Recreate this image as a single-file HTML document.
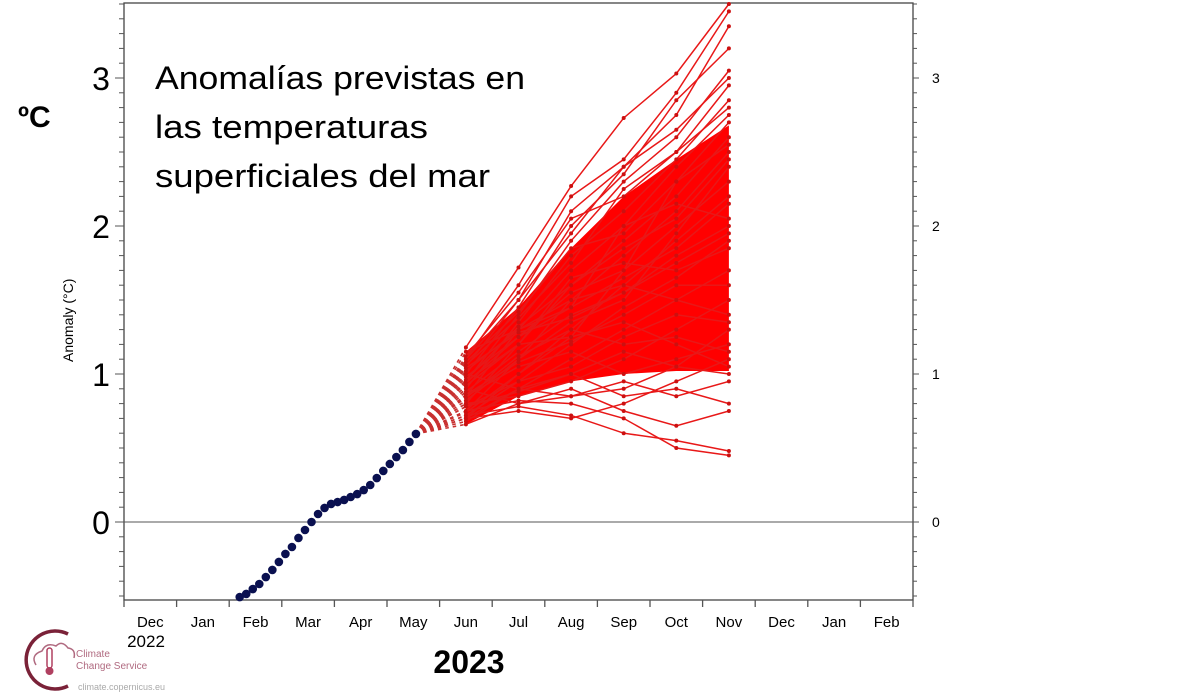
<!DOCTYPE html>
<html><head><meta charset="utf-8"><style>
html,body{margin:0;padding:0;background:#fff;width:1200px;height:695px;overflow:hidden}
svg{display:block}
.lbl{font-family:"Liberation Sans",sans-serif;fill:#000}
.big{font-family:"Liberation Sans",sans-serif;fill:#000}
</style></head><body>
<svg id="chart" width="1200" height="695" xmlns="http://www.w3.org/2000/svg">
<g id="axes"></g>
<g id="series"></g>
<g id="labels"></g>
<text class="big" x="155" y="89" font-size="32" textLength="370" lengthAdjust="spacingAndGlyphs">Anomalías previstas en</text>
<text class="big" x="155" y="138" font-size="32" textLength="273" lengthAdjust="spacingAndGlyphs">las temperaturas</text>
<text class="big" x="155" y="187" font-size="32" textLength="335" lengthAdjust="spacingAndGlyphs">superficiales del mar</text>
<text class="big" x="18" y="127" font-size="30" font-weight="bold">ºC</text>
<text class="lbl" x="0" y="0" font-size="14" transform="translate(73,362) rotate(-90)">Anomaly (°C)</text>
<text class="big" x="469" y="673" font-size="32" font-weight="bold" text-anchor="middle">2023</text>
<text class="lbl" x="146" y="647" font-size="17" text-anchor="middle">2022</text>
<g>
<path d="M68,634 A29,29 0 1 0 68,686" fill="none" stroke="#7a2238" stroke-width="3.5"/>
<path d="M36,665 q-6,-10 6,-14 q4,-9 14,-5 q6,-6 12,2 q8,1 6,10" fill="none" stroke="#b06a80" stroke-width="1.5"/>
<rect x="47" y="648" width="5" height="20" rx="2.5" fill="none" stroke="#b04060" stroke-width="1.5"/>
<circle cx="49.5" cy="671" r="4" fill="#b04060"/>
<text class="lbl" x="76" y="657" font-size="10" style="fill:#b06a80">Climate</text>
<text class="lbl" x="76" y="669" font-size="10" style="fill:#b06a80">Change Service</text>
<text class="lbl" x="78" y="690" font-size="9" style="fill:#aaa">climate.copernicus.eu</text>
</g>
</svg>
<script>
const months=["Dec","Jan","Feb","Mar","Apr","May","Jun","Jul","Aug","Sep","Oct","Nov","Dec","Jan","Feb"];
const yTicks=[0,1,2,3];
const obsValues=[-0.507,-0.486,-0.453,-0.419,-0.372,-0.324,-0.270,-0.216,-0.169,-0.108,-0.054,0,0.054,0.095,0.122,0.135,0.149,0.169,0.189,0.216,0.25,0.297,0.345,0.392,0.439,0.486,0.541,0.595];
const obsStartMonth=2.2, obsEndMonth=5.55;
const fcMonths=[6.5,7.5,8.5,9.5,10.5,11.5];
const coreLow=[0.66,0.85,0.95,1.0,1.02,1.02];
const coreHigh=[1.15,1.45,1.85,2.2,2.45,2.68];
const m1=[1.18,1.72,2.27,2.73,3.03,3.5],m2=[1.1,1.6,2.2,2.45,2.9,3.45],m3=[1.05,1.5,2.1,2.4,2.75,3.35],m4=[1.0,1.45,2.0,2.35,2.85,3.2],
m5=[0.95,1.4,1.9,2.3,2.6,3.05],m6=[1.12,1.55,2.05,2.2,2.5,2.95],m7=[0.9,1.35,1.8,2.1,2.45,2.85],m8=[0.85,1.3,1.7,2.0,2.4,2.75],
m9=[1.08,1.42,1.85,1.95,2.3,2.7],m10=[0.8,1.2,1.6,1.9,2.2,2.6],m11=[0.75,1.1,1.5,1.8,2.1,2.5],m12=[0.98,1.25,1.55,1.7,2.0,2.3],
m13=[0.7,1.0,1.3,1.6,1.9,2.2],m14=[0.88,1.15,1.4,1.55,1.8,2.0],m15=[0.72,0.95,1.2,1.45,1.65,1.9],m16=[0.68,0.9,1.1,1.3,1.5,1.7],
m17=[0.8,0.85,0.95,1.1,1.3,1.5],m18=[0.66,0.8,0.85,0.9,1.05,1.3],m19=[0.7,0.75,0.7,0.8,0.95,1.1],m20=[0.72,0.78,0.72,0.6,0.55,0.48],
m21=[0.75,0.82,0.8,0.7,0.5,0.45],m22=[0.9,0.8,0.9,0.75,0.65,0.75],m23=[1.0,0.9,0.85,0.95,0.85,0.95],m24=[0.78,0.88,1.0,0.85,0.9,0.8],
m25=[0.95,1.2,1.25,1.35,1.2,1.05],m26=[0.85,1.05,1.15,1.0,1.1,1.2],m27=[1.15,1.3,1.5,1.6,1.5,1.4],m28=[0.92,1.2,1.65,1.75,1.7,1.85],
m29=[1.02,1.3,1.45,2.0,2.15,2.05],m30=[0.82,1.1,1.35,1.5,1.95,2.4],m31=[0.74,1.0,1.25,1.7,2.3,2.55],m32=[1.06,1.38,1.75,2.25,2.5,2.8],
m33=[0.96,1.32,1.6,1.85,2.05,2.45],m34=[0.86,1.08,1.22,1.4,1.6,1.6],m35=[0.78,0.95,1.05,1.25,1.4,1.35],m36=[0.7,0.9,1.0,1.15,1.05,1.0],
m37=[1.1,1.5,1.95,2.4,2.65,3.0],m38=[0.94,1.25,1.45,1.65,1.85,2.15],m39=[0.84,1.12,1.3,1.2,1.25,1.15],m40=[1.04,1.28,1.38,1.55,1.75,1.95];
const members=[m1,m2,m3,m4,m5,m6,m7,m8,m9,m10,m11,m12,m13,m14,m15,m16,m17,m18,m19,m20,m21,m22,m23,m24,m25,m26,m27,m28,m29,m30,m31,m32,m33,m34,m35,m36,m37,m38,m39,m40];

const L=124,R=913,T=3,B=600;
const y=v=>522-v*148;
const x=m=>L+m*(R-L)/15;
const NS="http://www.w3.org/2000/svg";
function mk(tag,parent,attrs){const e=document.createElementNS(NS,tag);for(const k in attrs)e.setAttribute(k,attrs[k]);parent.appendChild(e);return e;}
const ax=document.getElementById('axes'),se=document.getElementById('series'),lb=document.getElementById('labels');

let frame=mk('rect',ax,{x:L,y:T,width:R-L,height:B-T,fill:'none',stroke:'#444','stroke-width':1.3});


let zl=mk('line',ax,{x1:L,x2:R,y1:y(0),y2:y(0),stroke:'#555','stroke-width':1});


for(let i=-5;i<=35;i++){const v=i/10;const py=y(v);if(py<T||py>B)continue;const major=(i%10===0);
 mk('line',ax,{x1:L,x2:L-(major?9:5),y1:py,y2:py,stroke:'#555','stroke-width':1});
 mk('line',ax,{x1:R,x2:R+(major?6:4),y1:py,y2:py,stroke:'#555','stroke-width':1});}
for(let i=0;i<=15;i++){mk('line',ax,{x1:x(i),x2:x(i),y1:B,y2:B+7,stroke:'#555','stroke-width':1.3});}
months.forEach((m,i)=>{const t=mk('text',lb,{x:x(i+0.5),y:627,'font-size':15,'text-anchor':'middle',class:'lbl'});t.textContent=m;
 
 });
yTicks.forEach(v=>{let t=mk('text',lb,{x:101,y:y(v)+12,'font-size':32,'text-anchor':'middle',class:'big'});t.textContent=v;
 
 
 let t2=mk('text',lb,{x:932,y:y(v)+5,'font-size':14,class:'lbl'});t2.textContent=v;
 
 });

const lastX=x(obsEndMonth),lastY=y(obsValues[obsValues.length-1]);
members.forEach(mv=>{const l=mk('line',se,{x1:lastX,y1:lastY,x2:x(fcMonths[0]),y2:y(mv[0]),stroke:'#c83030','stroke-width':1.6,'stroke-dasharray':'3.5 4'});
 
 });
let pts=fcMonths.map((m,i)=>x(m)+','+y(coreHigh[i])).concat(fcMonths.slice().reverse().map((m,j)=>{const i=fcMonths.length-1-j;return x(m)+','+y(coreLow[i]);}));
let core=mk('polygon',se,{points:pts.join(' '),fill:'#ff0000'});


members.forEach((mv,k)=>{const g=mk('g',se,{});
 
 
 mk('polyline',g,{points:mv.map((v,i)=>x(fcMonths[i])+','+y(v)).join(' '),fill:'none',stroke:'#e81818','stroke-width':1.5});
 mv.forEach((v,i)=>mk('circle',g,{cx:x(fcMonths[i]),cy:y(v),r:2,fill:'#cc1010'}));});
const n=obsValues.length;
obsValues.forEach((v,i)=>{const c=mk('circle',se,{cx:x(obsStartMonth+(obsEndMonth-obsStartMonth)*i/(n-1)),cy:y(v),r:4.3,fill:'#0a1050'});
 
 });
</script>
</body></html>
